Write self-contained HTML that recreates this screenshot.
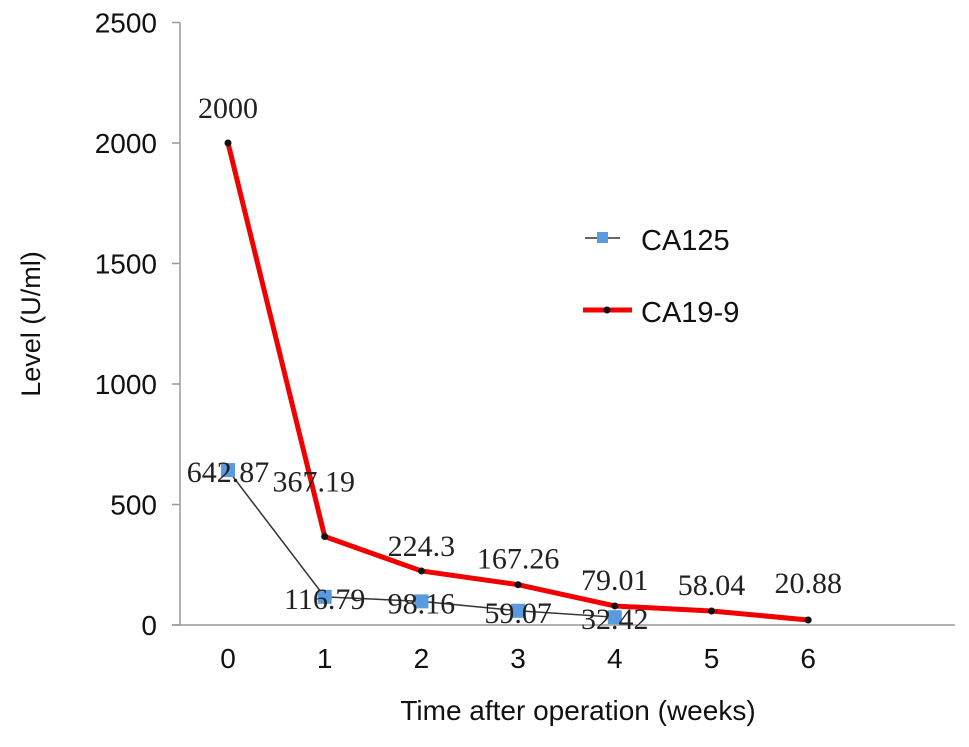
<!DOCTYPE html>
<html><head><meta charset="utf-8"><style>
body{margin:0;background:#fff}
svg{display:block}
</style></head><body>
<svg id="chart" width="969" height="747" viewBox="0 0 969 747" xmlns="http://www.w3.org/2000/svg" font-family="Liberation Sans, sans-serif">
<g id="axes"></g>
<g id="series"></g>
<text x="0" y="0" transform="translate(40,324) rotate(-90)" text-anchor="middle" font-size="27" fill="#111">Level (U/ml)</text>
<text x="578" y="720" text-anchor="middle" font-size="28" fill="#111">Time after operation (weeks)</text>
<g>
<g>
<line x1="585" y1="238" x2="620" y2="238" stroke="#333" stroke-width="1.5"/>
<rect x="597" y="232" width="11" height="11" fill="#5a9be0"/>
<text x="641" y="250" font-size="29" fill="#111">CA125</text>
</g>
<g>
<line x1="583" y1="310" x2="632" y2="310" stroke="#f20000" stroke-width="5"/>
<circle cx="607" cy="310" r="3.5" fill="#111"/>
<text x="641" y="322" font-size="29" fill="#111">CA19-9</text>
</g>
</g>
</svg>
<script>
const categories = ["0","1","2","3","4","5","6"];
const yTicks = [0,500,1000,1500,2000,2500];
const ca125 = [642.87,116.79,98.16,59.07,32.42];
const ca125Labels = ["642.87","116.79","98.16","59.07","32.42"];
const ca199 = [2000,367.19,224.3,167.26,79.01,58.04,20.88];
const ca199Labels = ["2000","367.19","224.3","167.26","79.01","58.04","20.88"];
// layout-only label nudges (dx, dy) for CA19-9 labels
const ca199LabelDx = [0,-11,0,0,0,0,0];
const ca199LabelDy = [-25,-45,-15,-16,-16,-16,-27];

const NS="http://www.w3.org/2000/svg";
const x0=228, step=96.7, yBase=625, yTop=22.5, yMax=2500;
const xs=i=>x0+i*step;
const ys=v=>yBase-(v/yMax)*(yBase-yTop);
function mk(tag,attrs,parent){const e=document.createElementNS(NS,tag);for(const k in attrs)e.setAttribute(k,attrs[k]);parent.appendChild(e);return e;}
const axes=document.getElementById('axes'), series=document.getElementById('series');

let yl=mk('line',{x1:180,y1:yTop,x2:180,y2:yBase,stroke:'#999','stroke-width':1.5},axes);


let xl=mk('line',{x1:172,y1:yBase,x2:955,y2:yBase,stroke:'#999','stroke-width':1.5},axes);


yTicks.forEach(v=>{
  const t=mk('line',{x1:172,y1:ys(v),x2:180,y2:ys(v),stroke:'#999','stroke-width':1.5},axes);
  
  
  const l=mk('text',{x:157,y:ys(v)+10,'text-anchor':'end','font-size':28,fill:'#111'},axes);
  
  
  l.textContent=v;
});
categories.forEach((c,i)=>{
  const l=mk('text',{x:xs(i),y:668,'text-anchor':'middle','font-size':28,fill:'#111'},axes);
  
  
  l.textContent=c;
});

let p1=mk('polyline',{points:ca125.map((v,i)=>xs(i)+','+ys(v)).join(' '),fill:'none',stroke:'#333','stroke-width':1.5},series);


let p2=mk('polyline',{points:ca199.map((v,i)=>xs(i)+','+ys(v)).join(' '),fill:'none',stroke:'#f20000','stroke-width':5,'stroke-linejoin':'round'},series);


ca125.forEach((v,i)=>{
  const r=mk('rect',{x:xs(i)-7,y:ys(v)-7,width:14,height:14,fill:'#5a9be0'},series);
  
  
});
ca199.forEach((v,i)=>{
  const c=mk('circle',{cx:xs(i),cy:ys(v),r:3.5,fill:'#111'},series);
  
  
});
ca125.forEach((v,i)=>{
  const t=mk('text',{x:xs(i),y:ys(v)+12,'text-anchor':'middle','font-size':30,'font-family':'Liberation Serif, serif',fill:'#222'},series);
  
  
  t.textContent=ca125Labels[i];
});
ca199.forEach((v,i)=>{
  const t=mk('text',{x:xs(i)+ca199LabelDx[i],y:ys(v)+ca199LabelDy[i],'text-anchor':'middle','font-size':30,'font-family':'Liberation Serif, serif',fill:'#222'},series);
  
  
  t.textContent=ca199Labels[i];
});
</script>
</body></html>
